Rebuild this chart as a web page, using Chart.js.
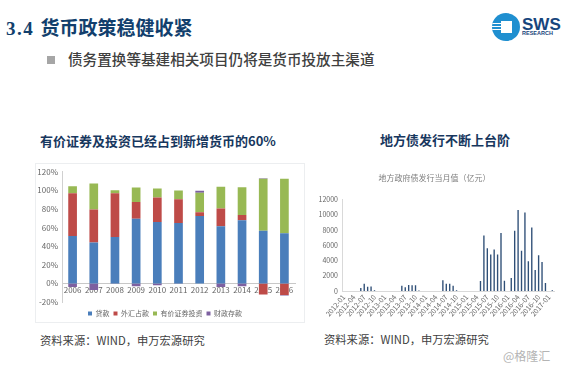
<!DOCTYPE html>
<html lang="zh">
<head>
<meta charset="UTF-8" />
<title>货币政策稳健收紧</title>
<script src="https://cdn.jsdelivr.net/npm/chart.js"></script>
<style>
  html, body { margin: 0; padding: 0; background: #fff; }
  body { position: relative; width: 564px; height: 371px; overflow: hidden; font-family: "Noto Sans CJK SC", "Liberation Sans", sans-serif; filter: blur(0.3px); }
  .txt { position: absolute; white-space: nowrap; line-height: 1; }
  #heading { left: 6px; top: 17px; font-size: 19px; font-weight: 700; color: #123f6d; }
  #heading span { font-family: "Liberation Serif", serif; letter-spacing: 1.5px; margin-right: 2px; }
  #bullet { position: absolute; left: 47px; top: 56px; width: 8px; height: 8px; background: #a6a6a6; }
  #sub { left: 68px; top: 52px; font-size: 14.6px; color: #404040; font-weight: 500; }
  .ctitle { font-size: 13px; font-weight: 700; color: #17375e; }
  .src { font-size: 11.3px; color: #404040; }
  #card { position: absolute; left: 35px; top: 163px; width: 270px; height: 160px; border: 1px solid #eceef0; box-sizing: border-box; }
  canvas { position: absolute; }
  #logo { position: absolute; left: 492px; top: 13px; width: 28px; height: 28px; border-radius: 50%; background: #1f8fd0; overflow: hidden; }
  #logo i { position: absolute; left: 9px; top: 8px; width: 11px; height: 12px; background: #fff; }
  #logo b { position: absolute; left: 0; width: 9px; height: 1px; background: #fff; }
  #sws { left: 522px; top: 16px; font-size: 17px; font-weight: 700; color: #17457c; font-family: "Liberation Sans", sans-serif; }
  #res { left: 522px; top: 31px; font-size: 5.5px; font-weight: 700; color: #17457c; font-family: "Liberation Sans", sans-serif; }
  #mark { left: 503px; top: 350px; font-size: 12px; color: #b4b4b4; }
</style>
</head>
<body>
  <div class="txt" id="heading"><span>3.4</span> 货币政策稳健收紧</div>
  <div id="logo"><i></i><b style="top:10px"></b><b style="top:13px"></b><b style="top:16px"></b></div>
  <div class="txt" id="sws">SWS</div>
  <div class="txt" id="res">RESEARCH</div>
  <div id="bullet"></div>
  <div class="txt" id="sub">债务置换等基建相关项目仍将是货币投放主渠道</div>

  <div class="txt ctitle" style="left:40px;top:134px">有价证券及投资已经占到新增货币的60%</div>
  <div class="txt ctitle" style="left:380px;top:133px">地方债发行不断上台阶</div>

  <div id="card"></div>
  <canvas id="moneyChart" style="left:35px;top:163px" width="270" height="160"></canvas>
  <canvas id="bondChart" style="left:315px;top:165px" width="249" height="165"></canvas>

  <div class="txt src" style="left:40px;top:335px">资料来源：WIND，申万宏源研究</div>
  <div class="txt src" style="left:324px;top:334px">资料来源：WIND，申万宏源研究</div>
  <div class="txt" id="mark">@格隆汇</div>

  <script>
    // left chart, share of new money
    const years = ['2006','2007','2008','2009','2010','2011','2012','2013','2014','2015','2016'];
    const loans = [51, 44, 50, 69.5, 66, 65, 72.5, 61.5, 68, 56.5, 54];
    const fxReserves = [46, 35.5, 47, 18, 26.5, 25.5, 4, 19, 5.5, -12, -12.5];
    const securities = [7.5, 28, 3.2, 15.5, 9.5, 9.5, 21, 23.5, 30, 56, 58.5];
    const fiscalDeposits = [-4, -7, -0.5, -3, -2, -0.5, 2, -4, -3, 0.5, -0.5];

    // right chart, monthly local government bond issuance
    const months = [
      '2012-01','2012-02','2012-03','2012-04','2012-05','2012-06','2012-07','2012-08','2012-09','2012-10','2012-11','2012-12',
      '2013-01','2013-02','2013-03','2013-04','2013-05','2013-06','2013-07','2013-08','2013-09','2013-10','2013-11','2013-12',
      '2014-01','2014-02','2014-03','2014-04','2014-05','2014-06','2014-07','2014-08','2014-09','2014-10','2014-11','2014-12',
      '2015-01','2015-02','2015-03','2015-04','2015-05','2015-06','2015-07','2015-08','2015-09','2015-10','2015-11','2015-12',
      '2016-01','2016-02','2016-03','2016-04','2016-05','2016-06','2016-07','2016-08','2016-09','2016-10','2016-11','2016-12',
      '2017-01','2017-02'
    ];
    const issuance = [
      0,0,0,0,0,400,950,550,600,100,0,0,
      0,0,0,0,0,700,500,800,750,750,50,0,
      0,0,0,0,0,1400,950,950,700,100,0,0,
      0,0,0,0,1300,7300,5600,4800,5450,4800,7600,1350,
      0,1700,7900,10650,5300,10300,3900,8350,2750,4700,3800,1050,
      0,100
    ];

    const axisGrey = '#666666';
    const cjk = '"Noto Sans CJK SC", "Liberation Sans", sans-serif';

    // push the legend down a little, the plot keeps its size
    const legendShift = {
      id: 'legendShift',
      afterLayout(chart) { chart.legend.top += 4; }
    };

    new Chart(document.getElementById('moneyChart'), {
      type: 'bar',
      plugins: [legendShift],
      data: {
        labels: years,
        datasets: [
          { label: '贷款', data: loans, backgroundColor: '#4a7ebb' },
          { label: '外汇占款', data: fxReserves, backgroundColor: '#be4b48' },
          { label: '有价证券投资', data: securities, backgroundColor: '#98b954' },
          { label: '财政存款', data: fiscalDeposits, backgroundColor: '#7d60a0' }
        ]
      },
      options: {
        responsive: false,
        animation: false,
        layout: { padding: { left: 0, right: 10, top: 8, bottom: 0 } },
        datasets: { bar: { barPercentage: 0.41, categoryPercentage: 1 } },
        plugins: {
          tooltip: { enabled: false },
          legend: {
            position: 'bottom',
            labels: { boxWidth: 4, boxHeight: 4, padding: 4, color: axisGrey, font: { size: 7, family: cjk } }
          }
        },
        scales: {
          x: {
            stacked: true,
            position: { y: 0 },
            grid: { display: false, drawTicks: false },
            border: { color: '#c8c8c8' },
            ticks: { color: axisGrey, font: { size: 8, family: cjk }, padding: 2, maxRotation: 0, autoSkip: false }
          },
          y: {
            stacked: true,
            min: -20,
            max: 120,
            afterFit: function(s) { s.width = 27; },
            grid: { display: false, drawTicks: false },
            border: { color: '#d0d0d0' },
            ticks: { stepSize: 20, color: axisGrey, padding: 4, font: { size: 8, family: cjk }, callback: v => v + '%' }
          }
        }
      }
    });

    new Chart(document.getElementById('bondChart'), {
      type: 'bar',
      data: {
        labels: months,
        datasets: [{ label: '地方政府债发行当月值', data: issuance, backgroundColor: '#2f4f77', barPercentage: 0.4, categoryPercentage: 1 }]
      },
      options: {
        responsive: false,
        animation: false,
        layout: { padding: { left: 0, right: 10, top: 0, bottom: 0 } },
        plugins: {
          tooltip: { enabled: false },
          legend: { display: false },
          title: {
            display: true,
            text: '地方政府债发行当月值（亿元）',
            color: '#7f7f7f',
            font: { size: 8, weight: 'normal', family: cjk },
            padding: { top: 8, bottom: 17 }
          }
        },
        scales: {
          x: {
            grid: { display: false, drawTicks: false },
            border: { color: '#d9d9d9' },
            afterFit: function(s) { s.height = 39; },
            ticks: {
              color: axisGrey,
              font: { size: 7, family: cjk },
              minRotation: 50,
              maxRotation: 50,
              autoSkip: false,
              padding: 2,
              callback: function(v, i) { return i % 3 === 0 ? months[i] : ''; }
            }
          },
          y: {
            min: 0,
            max: 12000,
            afterFit: function(s) { s.width = 27; },
            grid: { display: false, drawTicks: false },
            border: { color: '#d9d9d9' },
            ticks: { stepSize: 2000, color: axisGrey, padding: 4, font: { size: 7, family: cjk }, callback: v => String(v) }
          }
        }
      }
    });
  </script>
</body>
</html>
